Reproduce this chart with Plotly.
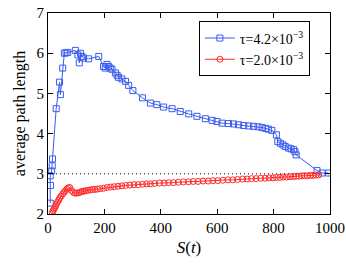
import plotly.graph_objects as go

blue_x = [8, 9, 8, 13, 15, 16, 29, 41, 44, 52, 58, 64, 70, 97, 106, 111, 115, 120, 126, 144,
          180, 197, 203, 209, 215, 221, 227, 239, 245, 250, 262, 275, 286, 301, 335, 363, 386,
          410, 440, 469, 499, 528, 558, 582, 599, 617, 640, 658, 676, 694, 712, 729, 745, 759,
          772, 782, 794, 810, 815, 824, 833, 841, 853, 862, 871, 876, 880, 954, 972, 995]
blue_y = [2.27, 2.71, 2.95, 3.07, 3.20, 3.37, 4.62, 5.28, 4.97, 5.63, 6.00, 6.01, 6.02, 6.07,
          5.96, 5.76, 6.00, 5.92, 5.88, 5.86, 5.92, 5.67, 5.63, 5.72, 5.67, 5.63, 5.60, 5.51,
          5.45, 5.40, 5.36, 5.30, 5.20, 5.07, 4.89, 4.76, 4.72, 4.66, 4.62, 4.55, 4.49, 4.43,
          4.37, 4.33, 4.30, 4.26, 4.25, 4.24, 4.22, 4.20, 4.19, 4.18, 4.17, 4.15, 4.13, 4.11,
          4.08, 3.97, 3.80, 3.76, 3.72, 3.68, 3.64, 3.62, 3.60, 3.55, 3.47, 3.08, 3.02, 3.02]

red_x = [15, 18, 21, 24, 27, 30, 34, 38, 42, 47, 52, 57, 62, 67, 72, 77, 84, 91, 97, 103, 110,
         116, 122, 128, 135, 142, 150, 158, 166, 175, 185, 197, 210, 222, 235, 248, 262, 275,
         290, 305, 320, 335, 350, 363, 378, 395, 412, 428, 445, 462, 480, 498, 515, 532, 550,
         568, 585, 602, 620, 638, 655, 672, 690, 706, 722, 738, 754, 770, 784, 798, 810, 822,
         834, 846, 858, 870, 880, 890, 900, 910, 920, 930, 940, 950, 960]
red_y = [2.03, 2.08, 2.12, 2.16, 2.20, 2.25, 2.30, 2.35, 2.40, 2.45, 2.50, 2.54, 2.58, 2.62,
         2.65, 2.66, 2.58, 2.53, 2.52, 2.52, 2.53, 2.55, 2.56, 2.57, 2.58, 2.59, 2.60, 2.61,
         2.61, 2.62, 2.63, 2.64, 2.66, 2.67, 2.68, 2.69, 2.70, 2.71, 2.72, 2.73, 2.73, 2.74,
         2.75, 2.75, 2.76, 2.77, 2.77, 2.78, 2.78, 2.79, 2.80, 2.80, 2.81, 2.81, 2.82, 2.82,
         2.83, 2.83, 2.84, 2.85, 2.85, 2.86, 2.87, 2.87, 2.88, 2.88, 2.89, 2.89, 2.90, 2.90,
         2.91, 2.91, 2.92, 2.92, 2.93, 2.93, 2.94, 2.94, 2.95, 2.95, 2.95, 2.96, 2.96, 2.97, 2.97]

ref_x = [0, 1000]
ref_y = [3, 3]

blue = "#3a5cf0"
red = "#ff2a2a"

fig = go.Figure()
fig.add_trace(go.Scatter(x=ref_x, y=ref_y, mode="lines", showlegend=False,
                         line=dict(color="black", width=1, dash="1px,3px")))
fig.add_trace(go.Scatter(x=blue_x, y=blue_y, mode="lines+markers",
                         name="τ=4.2×10<sup>−3</sup>",
                         line=dict(color=blue, width=1),
                         marker=dict(symbol="square-open", size=6, color=blue, line=dict(width=1))))
fig.add_trace(go.Scatter(x=red_x, y=red_y, mode="lines+markers",
                         name="τ=2.0×10<sup>−3</sup>",
                         line=dict(color=red, width=1),
                         marker=dict(symbol="circle-open", size=6, color=red, line=dict(width=1))))

axis_common = dict(showline=True, linecolor="black", linewidth=1, mirror="ticks",
                   ticks="inside", ticklen=5, tickcolor="black", showgrid=False, zeroline=False,
                   automargin=False,
                   tickfont=dict(family="Liberation Serif", size=15, color="black"))

fig.update_xaxes(range=[0, 1000], tickvals=[0, 200, 400, 600, 800, 1000],
                 title=dict(text="<i>S</i>(<i>t</i>)", standoff=6,
                            font=dict(family="Liberation Serif", size=17, color="black")),
                 **axis_common)
fig.update_yaxes(range=[2, 7], tickvals=[2, 3, 4, 5, 6, 7],
                 title=dict(text="average path length", standoff=6,
                            font=dict(family="Liberation Serif", size=16, color="black")),
                 **axis_common)

fig.update_layout(
    width=346, height=271,
    margin=dict(l=48, r=16, t=13, b=57),
    plot_bgcolor="white", paper_bgcolor="white",
    legend=dict(x=0.535, y=0.958, xanchor="left", yanchor="top",
                bgcolor="white", bordercolor="black", borderwidth=1,
                font=dict(family="Liberation Serif", size=14, color="black"),
                itemwidth=30, tracegroupgap=0),
)

fig.write_html("out.html", config={"displayModeBar": False},
               post_script="document.body.style.margin='0';document.body.style.overflow='hidden';")
